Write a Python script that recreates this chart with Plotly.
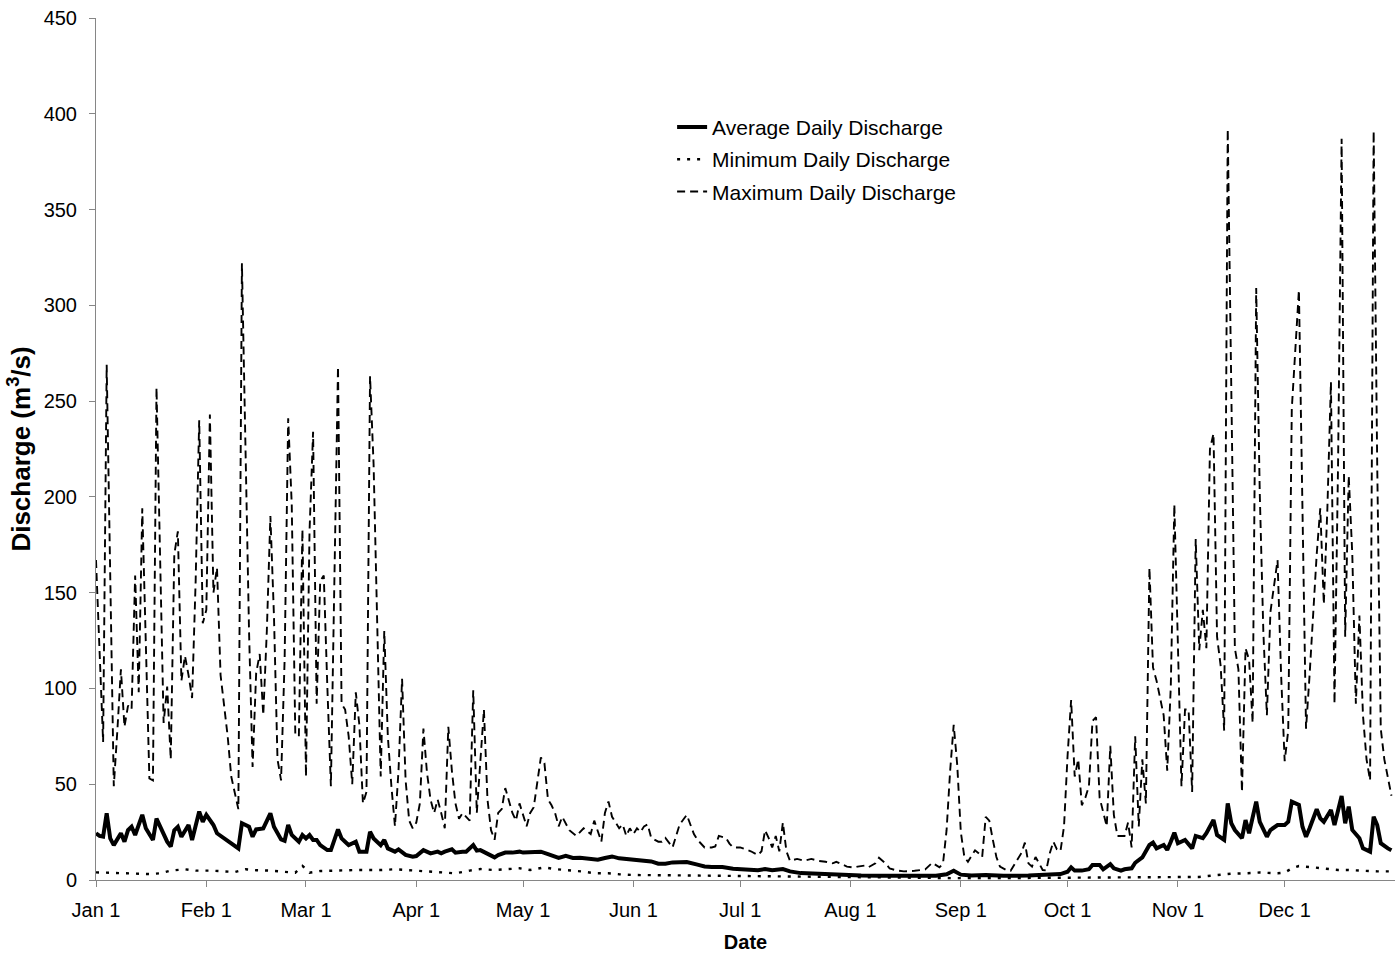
import plotly.graph_objects as go

# ---------------- data (day of year, 0 = Jan 1) ----------------
max_days = [0, 2, 3, 5, 6, 7, 8, 9, 10, 11, 12, 13, 15, 16, 17, 19, 20, 21, 22, 23, 24, 25, 26, 27, 28, 29, 30, 31, 32, 33, 34, 35, 37, 38, 40, 41, 43, 44, 45, 46, 47, 48, 49, 50, 51, 52, 53, 54, 55, 56, 57, 58, 59, 60, 61, 62, 63, 64, 65, 66, 68, 69, 70, 71, 72, 73, 74, 75, 76, 77, 78, 79, 80, 81, 82, 83, 84, 85, 86, 87, 88, 89, 90, 91, 92, 93, 94, 95, 96, 97, 98, 99, 100, 101, 102, 103, 105, 106, 107, 109, 110, 111, 112, 113, 114, 115, 117, 118, 119, 121, 122, 123, 125, 126, 127, 128, 129, 130, 131, 133, 135, 137, 139, 140, 142, 143, 144, 145, 147, 148, 149, 150, 151, 152, 153, 154, 155, 156, 158, 159, 160, 162, 163, 164, 166, 167, 168, 169, 171, 173, 174, 175, 177, 178, 179, 181, 184, 186, 187, 188, 189, 190, 191, 192, 193, 194, 195, 197, 199, 201, 203, 205, 207, 208, 211, 213, 214, 216, 217, 219, 220, 222, 223, 225, 227, 230, 231, 233, 235, 237, 238, 239, 240, 241, 242, 243, 244, 245, 246, 247, 248, 249, 250, 251, 252, 253, 254, 256, 257, 258, 260, 261, 262, 263, 264, 265, 266, 267, 268, 269, 270, 271, 272, 273, 274, 275, 276, 277, 278, 279, 280, 281, 282, 284, 285, 286, 287, 289, 290, 291, 292, 293, 294, 295, 296, 297, 298, 300, 301, 302, 303, 305, 306, 307, 308, 309, 310, 311, 312, 313, 314, 315, 316, 317, 318, 320, 321, 322, 323, 324, 325, 326, 327, 328, 329, 330, 331, 332, 333, 334, 335, 336, 338, 340, 341, 343, 344, 345, 346, 347, 348, 349, 350, 351, 352, 353, 354, 355, 356, 357, 358, 359, 360, 361, 362, 364]
max_vals = [167, 72, 269, 49, 78, 110, 80, 91, 89, 159, 98, 194, 53, 52, 257, 82, 101, 63, 170, 182, 104, 117, 107, 95, 156, 240, 134, 141, 243, 150, 163, 107, 75, 54, 37, 322, 130, 59, 108, 118, 86, 130, 190, 138, 63, 52, 115, 241, 196, 76, 75, 183, 54, 182, 234, 92, 156, 159, 101, 49, 268, 92, 89, 75, 50, 98, 81, 40, 46, 263, 217, 130, 54, 130, 75, 49, 28, 57, 105, 52, 31, 27, 30, 40, 79, 56, 42, 35, 42, 35, 27, 80, 57, 40, 32, 35, 31, 99, 35, 89, 42, 26, 21, 35, 37, 48, 35, 31, 40, 28, 35, 38, 64, 61, 42, 39, 35, 28, 33, 26, 23, 27, 24, 31, 20, 35, 41, 33, 27, 29, 23, 27, 24, 27, 25, 28, 29, 22, 20, 20, 22, 17, 23, 29, 34, 29, 24, 21, 17, 17, 17.5, 23, 22, 19, 17, 17, 15, 13, 15, 26, 22, 17, 23, 15, 30, 15, 10, 11, 10, 11, 10, 9.5, 8.7, 9.5, 7, 6.5, 7, 7.5, 6.6, 8.7, 11.6, 8.4, 6, 5, 4.5, 4.8, 5, 5.5, 9, 6.6, 8.7, 26, 57, 81, 60, 25, 12, 9.5, 12.5, 15.5, 14, 12, 33, 31, 21, 12, 7, 5, 4.8, 7.8, 14, 19.5, 8.7, 7, 12, 8.7, 5.2, 5, 14, 20, 16, 15, 28, 65, 94, 54, 63, 39, 43, 49, 83, 85, 43, 28, 70, 34, 23, 23, 30, 17, 75, 28, 63, 40, 163, 111, 104, 86, 57, 101, 196, 49, 89, 89, 46, 178, 120, 141, 121, 225, 233, 127, 112, 78, 392, 121, 110, 46, 121, 115, 82, 309, 202, 130, 86, 140, 153, 167, 107, 62, 78, 246, 308, 79, 107, 170, 194, 144, 194, 260, 92, 217, 387, 127, 211, 170, 92, 138, 86, 63, 52, 391, 217, 79, 63, 44]

avg_days = [0, 1, 2, 3, 4, 5, 7, 8, 9, 10, 11, 13, 14, 16, 17, 19, 20, 21, 22, 23, 24, 26, 27, 29, 30, 31, 33, 34, 36, 38, 40, 41, 43, 44, 45, 47, 48, 49, 50, 52, 53, 54, 55, 57, 58, 59, 60, 61, 62, 63, 65, 66, 68, 69, 70, 71, 73, 74, 76, 77, 78, 80, 81, 82, 84, 85, 87, 89, 90, 92, 94, 96, 97, 98, 100, 101, 103, 104, 106, 107, 108, 110, 112, 113, 115, 117, 119, 120, 123, 125, 127, 130, 132, 134, 136, 138, 141, 143, 145, 147, 150, 153, 156, 158, 160, 162, 164, 166, 169, 171, 173, 176, 179, 182, 185, 186, 188, 190, 193, 195, 198, 201, 206, 211, 215, 220, 228, 236, 239, 241, 243, 246, 250, 255, 262, 268, 271, 273, 274, 275, 277, 279, 280, 282, 283, 285, 286, 288, 289, 291, 292, 294, 295, 296, 297, 298, 300, 301, 302, 303, 304, 306, 308, 309, 311, 312, 314, 315, 317, 318, 319, 320, 322, 323, 324, 326, 327, 329, 330, 332, 334, 335, 336, 338, 339, 340, 341, 343, 344, 345, 347, 348, 350, 351, 352, 353, 355, 356, 358, 359, 360, 361, 363, 364]
avg_vals = [24.4, 23, 22.6, 34.8, 21.7, 18.2, 24.4, 20, 26, 27.8, 23.5, 34, 27, 20.9, 32, 23.5, 20, 17.4, 26, 27.8, 22.6, 28.7, 20.9, 35.7, 30.4, 34, 28.7, 24.4, 21.7, 19, 16.5, 29.6, 27.8, 22.6, 26.4, 26.9, 30.4, 34.8, 27.8, 21.2, 20.5, 28.7, 23.5, 20, 23.5, 21.7, 23.5, 20.9, 20.9, 18.2, 15.6, 15.6, 26.4, 21.7, 20, 18.2, 20, 14.8, 14.8, 25.2, 21.7, 18.2, 20.9, 16.5, 14.8, 16, 13.1, 12.2, 12.5, 15.6, 13.9, 14.8, 13.9, 14.8, 16, 14.3, 14.8, 14.8, 18.2, 15.3, 15.6, 13.9, 11.8, 13, 14.3, 14.3, 14.8, 14.3, 14.3, 14.8, 13.5, 11.5, 12.6, 11.5, 11.6, 11.1, 10.6, 11.5, 12.3, 11.3, 10.6, 10.3, 9.7, 8.5, 8.5, 9.2, 9.5, 9.4, 8, 7.1, 6.8, 6.8, 5.9, 5.4, 5.4, 5.1, 5.7, 5.1, 5.7, 4.5, 3.6, 3.3, 2.8, 2.4, 2.3, 2.2, 2.1, 2.2, 3.0, 4.8, 2.8, 2.3, 2.6, 2.2, 2.3, 2.6, 3.1, 4.3, 6.6, 4.9, 4.9, 5.6, 7.8, 7.8, 5.6, 8.3, 6.1, 4.9, 5.6, 6.1, 9, 11.8, 14.8, 18.3, 19.5, 16.5, 18.3, 15.7, 20, 24.7, 19.2, 20.9, 16.5, 23, 21.8, 24.4, 31.3, 23.5, 20.9, 40, 29.6, 26.1, 21.8, 31.3, 24.4, 40.9, 30.4, 22.6, 26.1, 28.7, 28.7, 30.4, 40.9, 39.2, 27.8, 22.6, 27, 36.9, 32.2, 30.4, 36.5, 28.7, 43.8, 29.6, 38.3, 26.1, 21.8, 16.5, 14.8, 33, 28.7, 19.2, 16.5, 15.5]

min_days = [0, 8, 11, 15, 18, 21, 25, 28, 32, 35, 39, 42, 45, 49, 53, 56, 58, 60, 63, 67, 70, 73, 77, 80, 84, 87, 90, 94, 98, 101, 105, 108, 112, 115, 119, 122, 126, 129, 133, 137, 140, 144, 147, 151, 165, 180, 195, 210, 220, 240, 255, 270, 290, 305, 310, 314, 319, 323, 327, 332, 334, 336, 338, 342, 346, 349, 352, 356, 360, 364]
min_vals = [4.0, 3.5, 3.1, 3.1, 3.5, 4.9, 5.6, 4.9, 4.9, 4.7, 4.2, 5.6, 5.1, 4.9, 4.4, 3.8, 7.4, 3.8, 4.7, 4.9, 5.4, 5.2, 5.2, 5.2, 5.6, 5.2, 4.8, 4.4, 3.9, 3.5, 4.9, 5.7, 5.2, 5.7, 6.1, 5.2, 6.6, 5.7, 5.2, 4.4, 3.5, 3.5, 3.0, 2.6, 2.4, 2.1, 1.8, 1.6, 1.2, 1.0, 1.0, 1.1, 1.2, 1.2, 1.6, 2.4, 3.3, 3.5, 3.9, 3.5, 3.9, 6.0, 7.3, 6.6, 5.7, 5.2, 5.2, 4.7, 4.5, 4.5]

month_days = [0, 31, 59, 90, 120, 151, 181, 212, 243, 273, 304, 334]
month_labels = ["Jan 1", "Feb 1", "Mar 1", "Apr 1", "May 1", "Jun 1", "Jul 1",
                "Aug 1", "Sep 1", "Oct 1", "Nov 1", "Dec 1"]

FONT = "Liberation Sans, Arial, sans-serif"
AXIS_GREY = "#868686"

fig = go.Figure()
fig.add_trace(go.Scatter(x=avg_days, y=avg_vals, mode="lines",
                         name="Average Daily Discharge", legendgroup="a",
                         line=dict(color="black", width=4)))
fig.add_trace(go.Scatter(x=min_days, y=min_vals, mode="lines",
                         name="Minimum Daily Discharge", legendgroup="b",
                         line=dict(color="black", width=2.4, dash="3px,7px")))
fig.add_trace(go.Scatter(x=max_days, y=max_vals, mode="lines",
                         name="Maximum Daily Discharge", legendgroup="c",
                         line=dict(color="black", width=1.9, dash="8px,5px")))

fig.update_layout(
    width=1399, height=959,
    margin=dict(l=96, r=4, t=18, b=79),
    paper_bgcolor="white", plot_bgcolor="white",
    font=dict(family=FONT, size=20, color="black"),
    showlegend=True,
    legend=dict(x=0.4435, y=0.897, xanchor="left", yanchor="top",
                bgcolor="rgba(0,0,0,0)", borderwidth=0,
                font=dict(family=FONT, size=21, color="black"),
                tracegroupgap=2, traceorder="grouped"),
    xaxis=dict(range=[0, 365], tickmode="array", tickvals=month_days,
               ticktext=month_labels, ticks="outside", ticklen=6,
               tickcolor=AXIS_GREY, showline=True, linecolor=AXIS_GREY,
               linewidth=1, showgrid=False, zeroline=False,
               tickfont=dict(family=FONT, size=20),
               ticklabelstandoff=6,
               title=dict(text="<b>Date</b>", font=dict(family=FONT, size=20),
                          standoff=14)),
    yaxis=dict(range=[0, 450], tick0=0, dtick=50, ticks="outside", ticklen=6,
               tickcolor=AXIS_GREY, showline=True, linecolor=AXIS_GREY,
               linewidth=1, showgrid=False, zeroline=False,
               tickfont=dict(family=FONT, size=20),
               ticklabelstandoff=8,
               title=dict(text="<b>Discharge (m<sup>3</sup>/s)</b>",
                          font=dict(family=FONT, size=26), standoff=5)),
)

fig.write_html("out.html")
